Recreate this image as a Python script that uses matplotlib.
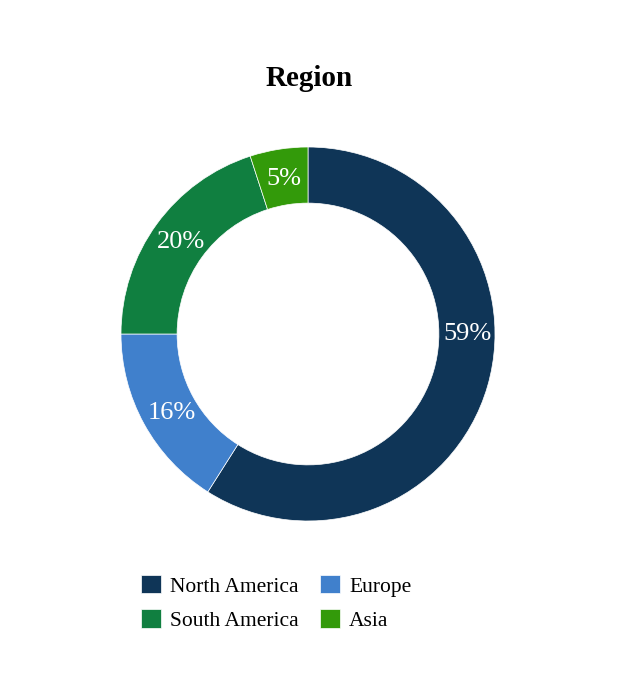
import matplotlib.pyplot as plt
import numpy as np

plt.rcParams['font.family'] = ['Liberation Serif', 'DejaVu Serif']

regions = ['North America', 'Europe', 'South America', 'Asia']
shares = [59, 16, 20, 5]
colors = ['#0f3557', '#4080cc', '#107f40', '#339a0a']

fig = plt.figure(figsize=(6.18, 7), dpi=100)
ax = fig.add_axes([121 / 618, 179 / 700, 374 / 618, 374 / 700])

wedges, _ = ax.pie(shares, colors=colors, startangle=90, counterclock=False,
                   radius=1, wedgeprops=dict(width=0.3, edgecolor='white', linewidth=0.5))
ax.set_xlim(-1, 1)
ax.set_ylim(-1, 1)
ax.set_aspect('equal')

# percent labels at mid ring radius (a couple nudged like the original)
label_angle_fix = {0: 90, 1: 240}
total = sum(shares)
cum = 0
for i, v in enumerate(shares):
    mid = (cum + v / 2) / total * 360
    cum += v
    r = 0.84
    if i in label_angle_fix:
        mid = label_angle_fix[i]
    if i == 0:
        r = 0.855
    a = np.deg2rad(mid)
    ax.text(r * np.sin(a), r * np.cos(a), f'{round(v / total * 100)}%',
            ha='center', va='center', color='white', fontsize=19)

fig.text(0.5, 1 - 78 / 700, 'Region', ha='center', va='center',
         fontsize=21, fontweight='bold')

# legend is filled row by row: reorder for matplotlib's column filling
order = [0, 2, 1, 3]
fig.legend([wedges[i] for i in order], [regions[i] for i in order], loc='center',
           bbox_to_anchor=(276 / 618, 1 - 603 / 700),
           ncol=2, frameon=False, fontsize=15.5, handlelength=0.95, handleheight=0.95,
           columnspacing=1.0, handletextpad=0.4, labelspacing=0.6)

fig.savefig('out.png', dpi=100, facecolor='white')
